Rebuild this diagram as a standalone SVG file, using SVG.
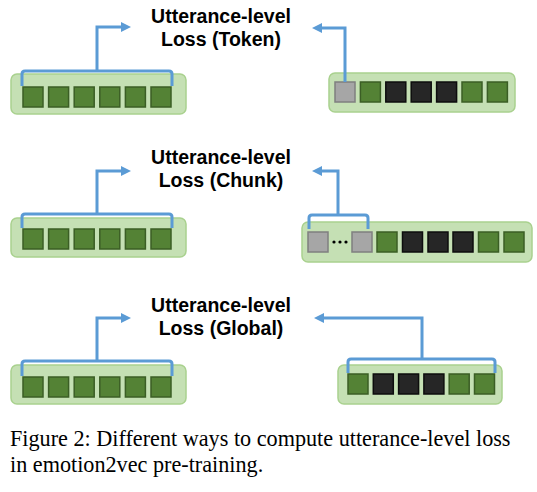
<svg xmlns="http://www.w3.org/2000/svg" width="537" height="492" viewBox="0 0 537 492">
<style>
.bg{fill:#c5e0b4;stroke:#a9d18e;stroke-width:1.5}
.g{fill:#548235;stroke:#3b5e25;stroke-width:1.5}
.k{fill:#262626;stroke:#0d0d0d;stroke-width:1.5}
.s{fill:#a6a6a6;stroke:#7f7f7f;stroke-width:1.5}
.ln{fill:none;stroke:#5b9bd5;stroke-width:3;stroke-linejoin:round}
.arr{fill:none;stroke:#5b9bd5;stroke-width:3;stroke-linejoin:miter;marker-end:url(#ah)}
.lbl{font-family:"Liberation Sans",Arial,sans-serif;font-weight:bold;font-size:19.5px;fill:#000;text-anchor:middle}
.cap{font-family:"Liberation Serif","Times New Roman",serif;font-size:22.2px;fill:#000}
</style>
<defs>
<marker id="ah" markerWidth="10" markerHeight="10" refX="2" refY="5" orient="auto" markerUnits="userSpaceOnUse">
<path d="M0,0 L10,5 L0,10 Z" fill="#5b9bd5"/>
</marker>
</defs>

<g id="label-token">
<text class="lbl" x="221" y="23">Utterance-level</text>
<text class="lbl" x="221" y="46">Loss (Token)</text>
</g>
<g id="label-chunk">
<text class="lbl" x="221" y="164">Utterance-level</text>
<text class="lbl" x="221" y="187">Loss (Chunk)</text>
</g>
<g id="label-global">
<text class="lbl" x="221" y="312">Utterance-level</text>
<text class="lbl" x="221" y="335">Loss (Global)</text>
</g>

<g id="seq-token-left">
<rect class="bg" x="11" y="74" width="175" height="40" rx="6"/>
<rect class="g" x="23" y="87" width="20" height="20"/>
<rect class="g" x="48.6" y="87" width="20" height="20"/>
<rect class="g" x="74.2" y="87" width="20" height="20"/>
<rect class="g" x="99.8" y="87" width="20" height="20"/>
<rect class="g" x="125.4" y="87" width="20" height="20"/>
<rect class="g" x="151" y="87" width="20" height="20"/>
</g>
<g id="seq-token-right">
<rect class="bg" x="329" y="73" width="186" height="39" rx="6"/>
<rect class="s" x="335" y="82" width="20" height="20"/>
<rect class="g" x="360.4" y="82" width="20" height="20"/>
<rect class="k" x="385.8" y="82" width="20" height="20"/>
<rect class="k" x="411.2" y="82" width="20" height="20"/>
<rect class="k" x="436.6" y="82" width="20" height="20"/>
<rect class="g" x="462" y="82" width="20" height="20"/>
<rect class="g" x="487.4" y="82" width="20" height="20"/>
</g>

<g id="seq-chunk-left">
<rect class="bg" x="11" y="218" width="175" height="39" rx="6"/>
<rect class="g" x="23" y="229" width="20" height="20"/>
<rect class="g" x="48.6" y="229" width="20" height="20"/>
<rect class="g" x="74.2" y="229" width="20" height="20"/>
<rect class="g" x="99.8" y="229" width="20" height="20"/>
<rect class="g" x="125.4" y="229" width="20" height="20"/>
<rect class="g" x="151" y="229" width="20" height="20"/>
</g>
<g id="seq-chunk-right">
<rect class="bg" x="302" y="222" width="230" height="40" rx="6"/>
<rect class="s" x="308" y="232" width="20" height="20"/>
<circle cx="334" cy="242" r="1.6" fill="#000"/>
<circle cx="340" cy="242" r="1.6" fill="#000"/>
<circle cx="346" cy="242" r="1.6" fill="#000"/>
<rect class="s" x="352" y="232" width="20" height="20"/>
<rect class="g" x="377" y="232" width="20" height="20"/>
<rect class="k" x="402.5" y="232" width="20" height="20"/>
<rect class="k" x="428" y="232" width="20" height="20"/>
<rect class="k" x="453" y="232" width="20" height="20"/>
<rect class="g" x="478.5" y="232" width="20" height="20"/>
<rect class="g" x="504" y="232" width="20" height="20"/>
</g>

<g id="seq-global-left">
<rect class="bg" x="11" y="365" width="175" height="39" rx="6"/>
<rect class="g" x="23" y="377" width="20" height="20"/>
<rect class="g" x="48.6" y="377" width="20" height="20"/>
<rect class="g" x="74.2" y="377" width="20" height="20"/>
<rect class="g" x="99.8" y="377" width="20" height="20"/>
<rect class="g" x="125.4" y="377" width="20" height="20"/>
<rect class="g" x="151" y="377" width="20" height="20"/>
</g>
<g id="seq-global-right">
<rect class="bg" x="338" y="365" width="164" height="39" rx="6"/>
<rect class="g" x="348" y="374" width="20" height="20"/>
<rect class="k" x="373.3" y="374" width="20" height="20"/>
<rect class="k" x="398.6" y="374" width="20" height="20"/>
<rect class="k" x="423.9" y="374" width="20" height="20"/>
<rect class="g" x="449.2" y="374" width="20" height="20"/>
<rect class="g" x="474.5" y="374" width="20" height="20"/>
</g>

<g id="connectors">
<path class="ln" d="M22,86 L22,74 Q22,71 25,71 L169,71 Q172,71 172,74 L172,86"/>
<path class="arr" d="M97,71 L97,27 L123,27"/>
<path class="arr" d="M345,82 L345,28 L320,28"/>

<path class="ln" d="M22,228 L22,217 Q22,214 25,214 L169,214 Q172,214 172,217 L172,228"/>
<path class="arr" d="M97,214 L97,171 L123,171"/>
<path class="ln" d="M309,229 L309,218 Q309,215 312,215 L365,215 Q368,215 368,218 L368,229"/>
<path class="arr" d="M338,215 L338,171 L320,171"/>

<path class="ln" d="M22,376 L22,364 Q22,361 25,361 L169,361 Q172,361 172,364 L172,376"/>
<path class="arr" d="M97,361 L97,318 L123,318"/>
<path class="ln" d="M348,373 L348,362 Q348,359 351,359 L492,359 Q495,359 495,362 L495,373"/>
<path class="arr" d="M422,359 L422,318 L322,318"/>
</g>

<g id="caption">
<text class="cap" x="10" y="446">Figure 2: Different ways to compute utterance-level loss</text>
<text class="cap" x="10" y="472">in emotion2vec pre-training.</text>
</g>
</svg>
